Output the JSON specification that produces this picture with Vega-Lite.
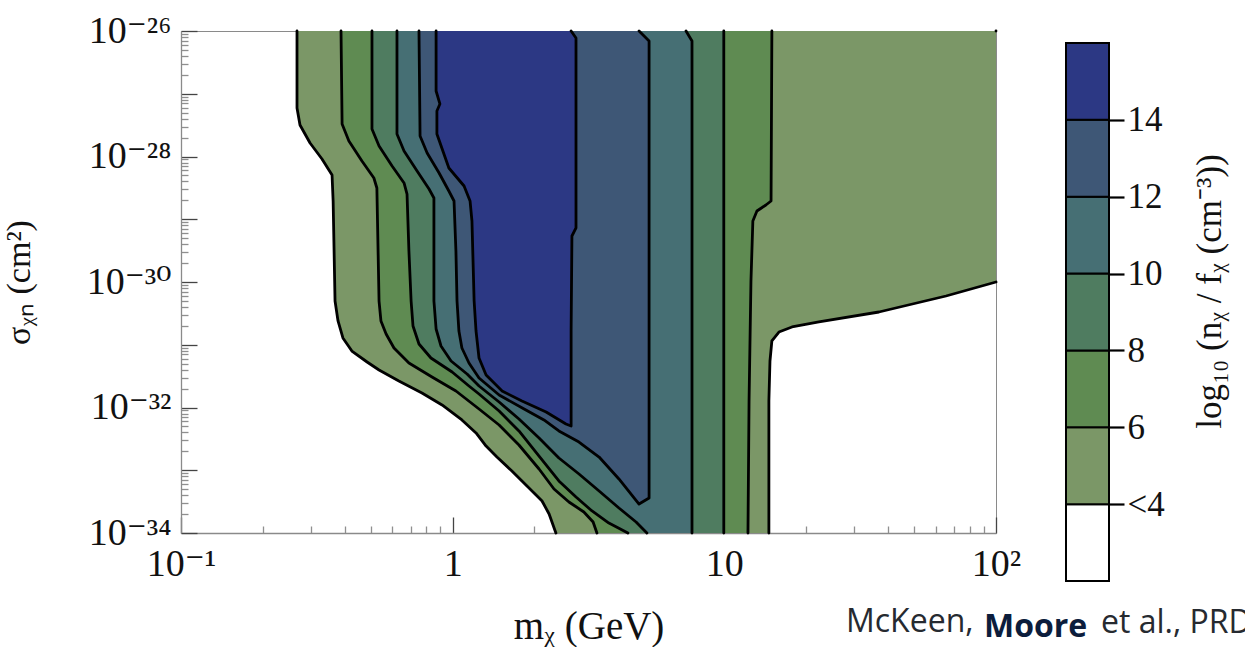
{
  "$schema": "https://vega.github.io/schema/vega-lite/v6.json",
  "background": "white",
  "padding": {"left": 1, "top": 11, "right": 0, "bottom": 0},
  "config": {"view": {"stroke": null}, "font": "Liberation Serif"},
  "title": {
    "text": "et al., PRD",
    "orient": "bottom",
    "anchor": "start",
    "frame": "group",
    "baseline": "alphabetic",
    "font": "Open Sans",
    "fontSize": 32,
    "fontWeight": "normal",
    "color": "#262a30",
    "dx": 920,
    "offset": -14
  },
  "spacing": 70,
  "bounds": "flush",
  "hconcat": [
    {
      "width": 815,
      "height": 502,
      "view": {"stroke": "#8a8a8a", "strokeWidth": 1},
      "title": {
        "text": "McKeen,",
        "orient": "bottom",
        "anchor": "start",
        "frame": "group",
        "baseline": "alphabetic",
        "font": "Open Sans",
        "fontSize": 32,
        "fontWeight": "normal",
        "color": "#262a30",
        "dx": 665,
        "offset": -14
      },
      "data": {
        "values": [
          {"level": 4, "part": "c4a", "log_m": -0.573, "log_sigma": -26},
          {"level": 4, "part": "c4a", "log_m": -0.573, "log_sigma": -27.227},
          {"level": 4, "part": "c4a", "log_m": -0.562, "log_sigma": -27.498},
          {"level": 4, "part": "c4a", "log_m": -0.525, "log_sigma": -27.785},
          {"level": 4, "part": "c4a", "log_m": -0.481, "log_sigma": -28.04},
          {"level": 4, "part": "c4a", "log_m": -0.444, "log_sigma": -28.295},
          {"level": 4, "part": "c4a", "log_m": -0.44, "log_sigma": -28.709},
          {"level": 4, "part": "c4a", "log_m": -0.433, "log_sigma": -30.303},
          {"level": 4, "part": "c4a", "log_m": -0.422, "log_sigma": -30.621},
          {"level": 4, "part": "c4a", "log_m": -0.404, "log_sigma": -30.892},
          {"level": 4, "part": "c4a", "log_m": -0.371, "log_sigma": -31.1},
          {"level": 4, "part": "c4a", "log_m": -0.315, "log_sigma": -31.275},
          {"level": 4, "part": "c4a", "log_m": -0.271, "log_sigma": -31.402},
          {"level": 4, "part": "c4a", "log_m": -0.198, "log_sigma": -31.578},
          {"level": 4, "part": "c4a", "log_m": -0.113, "log_sigma": -31.769},
          {"level": 4, "part": "c4a", "log_m": -0.039, "log_sigma": -31.96},
          {"level": 4, "part": "c4a", "log_m": 0.034, "log_sigma": -32.199},
          {"level": 4, "part": "c4a", "log_m": 0.086, "log_sigma": -32.406},
          {"level": 4, "part": "c4a", "log_m": 0.123, "log_sigma": -32.614},
          {"level": 4, "part": "c4a", "log_m": 0.163, "log_sigma": -32.789},
          {"level": 4, "part": "c4a", "log_m": 0.218, "log_sigma": -33.012},
          {"level": 4, "part": "c4a", "log_m": 0.281, "log_sigma": -33.283},
          {"level": 4, "part": "c4a", "log_m": 0.329, "log_sigma": -33.49},
          {"level": 4, "part": "c4a", "log_m": 0.355, "log_sigma": -33.697},
          {"level": 4, "part": "c4a", "log_m": 0.38, "log_sigma": -34},
          {"level": 4, "part": "c4b", "log_m": 1.164, "log_sigma": -34},
          {"level": 4, "part": "c4b", "log_m": 1.164, "log_sigma": -31.896},
          {"level": 4, "part": "c4b", "log_m": 1.168, "log_sigma": -31.259},
          {"level": 4, "part": "c4b", "log_m": 1.175, "log_sigma": -30.94},
          {"level": 4, "part": "c4b", "log_m": 1.201, "log_sigma": -30.797},
          {"level": 4, "part": "c4b", "log_m": 1.249, "log_sigma": -30.717},
          {"level": 4, "part": "c4b", "log_m": 1.348, "log_sigma": -30.637},
          {"level": 4, "part": "c4b", "log_m": 1.569, "log_sigma": -30.478},
          {"level": 4, "part": "c4b", "log_m": 1.816, "log_sigma": -30.223},
          {"level": 4, "part": "c4b", "log_m": 2.0, "log_sigma": -30.0},
          {"level": 4, "part": "c4edge", "log_m": 2.0, "log_sigma": -26},

          {"level": 6, "part": "c6a", "log_m": -0.411, "log_sigma": -26},
          {"level": 6, "part": "c6a", "log_m": -0.407, "log_sigma": -27.482},
          {"level": 6, "part": "c6a", "log_m": -0.382, "log_sigma": -27.753},
          {"level": 6, "part": "c6a", "log_m": -0.334, "log_sigma": -28.072},
          {"level": 6, "part": "c6a", "log_m": -0.29, "log_sigma": -28.343},
          {"level": 6, "part": "c6a", "log_m": -0.279, "log_sigma": -28.502},
          {"level": 6, "part": "c6a", "log_m": -0.271, "log_sigma": -30.303},
          {"level": 6, "part": "c6a", "log_m": -0.264, "log_sigma": -30.621},
          {"level": 6, "part": "c6a", "log_m": -0.245, "log_sigma": -30.829},
          {"level": 6, "part": "c6a", "log_m": -0.216, "log_sigma": -31.052},
          {"level": 6, "part": "c6a", "log_m": -0.161, "log_sigma": -31.291},
          {"level": 6, "part": "c6a", "log_m": -0.076, "log_sigma": -31.514},
          {"level": 6, "part": "c6a", "log_m": 0.012, "log_sigma": -31.737},
          {"level": 6, "part": "c6a", "log_m": 0.097, "log_sigma": -32.024},
          {"level": 6, "part": "c6a", "log_m": 0.171, "log_sigma": -32.279},
          {"level": 6, "part": "c6a", "log_m": 0.244, "log_sigma": -32.598},
          {"level": 6, "part": "c6a", "log_m": 0.318, "log_sigma": -32.98},
          {"level": 6, "part": "c6a", "log_m": 0.373, "log_sigma": -33.299},
          {"level": 6, "part": "c6a", "log_m": 0.428, "log_sigma": -33.506},
          {"level": 6, "part": "c6a", "log_m": 0.483, "log_sigma": -33.665},
          {"level": 6, "part": "c6a", "log_m": 0.517, "log_sigma": -33.825},
          {"level": 6, "part": "c6a", "log_m": 0.531, "log_sigma": -34},
          {"level": 6, "part": "c6b", "log_m": 1.087, "log_sigma": -34},
          {"level": 6, "part": "c6b", "log_m": 1.091, "log_sigma": -31.896},
          {"level": 6, "part": "c6b", "log_m": 1.098, "log_sigma": -29.984},
          {"level": 6, "part": "c6b", "log_m": 1.105, "log_sigma": -29.028},
          {"level": 6, "part": "c6b", "log_m": 1.12, "log_sigma": -28.869},
          {"level": 6, "part": "c6b", "log_m": 1.153, "log_sigma": -28.773},
          {"level": 6, "part": "c6b", "log_m": 1.172, "log_sigma": -28.709},
          {"level": 6, "part": "c6b", "log_m": 1.175, "log_sigma": -26},

          {"level": 8, "part": "c8a", "log_m": -0.297, "log_sigma": -26},
          {"level": 8, "part": "c8a", "log_m": -0.297, "log_sigma": -27.562},
          {"level": 8, "part": "c8a", "log_m": -0.271, "log_sigma": -27.833},
          {"level": 8, "part": "c8a", "log_m": -0.223, "log_sigma": -28.151},
          {"level": 8, "part": "c8a", "log_m": -0.179, "log_sigma": -28.422},
          {"level": 8, "part": "c8a", "log_m": -0.168, "log_sigma": -28.598},
          {"level": 8, "part": "c8a", "log_m": -0.161, "log_sigma": -29.506},
          {"level": 8, "part": "c8a", "log_m": -0.153, "log_sigma": -30.303},
          {"level": 8, "part": "c8a", "log_m": -0.146, "log_sigma": -30.701},
          {"level": 8, "part": "c8a", "log_m": -0.124, "log_sigma": -30.988},
          {"level": 8, "part": "c8a", "log_m": -0.08, "log_sigma": -31.211},
          {"level": 8, "part": "c8a", "log_m": -0.002, "log_sigma": -31.434},
          {"level": 8, "part": "c8a", "log_m": 0.06, "log_sigma": -31.657},
          {"level": 8, "part": "c8a", "log_m": 0.097, "log_sigma": -31.785},
          {"level": 8, "part": "c8a", "log_m": 0.171, "log_sigma": -32.056},
          {"level": 8, "part": "c8a", "log_m": 0.244, "log_sigma": -32.374},
          {"level": 8, "part": "c8a", "log_m": 0.318, "log_sigma": -32.773},
          {"level": 8, "part": "c8a", "log_m": 0.391, "log_sigma": -33.171},
          {"level": 8, "part": "c8a", "log_m": 0.454, "log_sigma": -33.426},
          {"level": 8, "part": "c8a", "log_m": 0.513, "log_sigma": -33.649},
          {"level": 8, "part": "c8a", "log_m": 0.575, "log_sigma": -33.841},
          {"level": 8, "part": "c8a", "log_m": 0.645, "log_sigma": -34},
          {"level": 8, "part": "c8b", "log_m": 0.998, "log_sigma": -34},
          {"level": 8, "part": "c8b", "log_m": 0.998, "log_sigma": -26},

          {"level": 10, "part": "c10a", "log_m": -0.205, "log_sigma": -26},
          {"level": 10, "part": "c10a", "log_m": -0.205, "log_sigma": -27.641},
          {"level": 10, "part": "c10a", "log_m": -0.179, "log_sigma": -27.912},
          {"level": 10, "part": "c10a", "log_m": -0.131, "log_sigma": -28.231},
          {"level": 10, "part": "c10a", "log_m": -0.087, "log_sigma": -28.518},
          {"level": 10, "part": "c10a", "log_m": -0.069, "log_sigma": -28.661},
          {"level": 10, "part": "c10a", "log_m": -0.069, "log_sigma": -30.303},
          {"level": 10, "part": "c10a", "log_m": -0.061, "log_sigma": -30.749},
          {"level": 10, "part": "c10a", "log_m": -0.043, "log_sigma": -31.02},
          {"level": 10, "part": "c10a", "log_m": -0.006, "log_sigma": -31.259},
          {"level": 10, "part": "c10a", "log_m": 0.053, "log_sigma": -31.466},
          {"level": 10, "part": "c10a", "log_m": 0.097, "log_sigma": -31.657},
          {"level": 10, "part": "c10a", "log_m": 0.171, "log_sigma": -31.912},
          {"level": 10, "part": "c10a", "log_m": 0.244, "log_sigma": -32.183},
          {"level": 10, "part": "c10a", "log_m": 0.318, "log_sigma": -32.486},
          {"level": 10, "part": "c10a", "log_m": 0.391, "log_sigma": -32.805},
          {"level": 10, "part": "c10a", "log_m": 0.465, "log_sigma": -33.06},
          {"level": 10, "part": "c10a", "log_m": 0.539, "log_sigma": -33.331},
          {"level": 10, "part": "c10a", "log_m": 0.612, "log_sigma": -33.602},
          {"level": 10, "part": "c10a", "log_m": 0.675, "log_sigma": -33.825},
          {"level": 10, "part": "c10a", "log_m": 0.715, "log_sigma": -34},
          {"level": 10, "part": "c10b", "log_m": 0.881, "log_sigma": -34},
          {"level": 10, "part": "c10b", "log_m": 0.881, "log_sigma": -26.159},
          {"level": 10, "part": "c10b", "log_m": 0.859, "log_sigma": -26},

          {"level": 12, "part": "c12", "log_m": -0.124, "log_sigma": -26},
          {"level": 12, "part": "c12", "log_m": -0.12, "log_sigma": -27.673},
          {"level": 12, "part": "c12", "log_m": -0.094, "log_sigma": -27.944},
          {"level": 12, "part": "c12", "log_m": -0.05, "log_sigma": -28.263},
          {"level": 12, "part": "c12", "log_m": -0.014, "log_sigma": -28.55},
          {"level": 12, "part": "c12", "log_m": 0.005, "log_sigma": -28.709},
          {"level": 12, "part": "c12", "log_m": 0.012, "log_sigma": -29.506},
          {"level": 12, "part": "c12", "log_m": 0.016, "log_sigma": -30.303},
          {"level": 12, "part": "c12", "log_m": 0.023, "log_sigma": -30.781},
          {"level": 12, "part": "c12", "log_m": 0.034, "log_sigma": -31.052},
          {"level": 12, "part": "c12", "log_m": 0.06, "log_sigma": -31.291},
          {"level": 12, "part": "c12", "log_m": 0.097, "log_sigma": -31.53},
          {"level": 12, "part": "c12", "log_m": 0.171, "log_sigma": -31.801},
          {"level": 12, "part": "c12", "log_m": 0.263, "log_sigma": -32.024},
          {"level": 12, "part": "c12", "log_m": 0.336, "log_sigma": -32.199},
          {"level": 12, "part": "c12", "log_m": 0.391, "log_sigma": -32.374},
          {"level": 12, "part": "c12", "log_m": 0.465, "log_sigma": -32.55},
          {"level": 12, "part": "c12", "log_m": 0.539, "log_sigma": -32.789},
          {"level": 12, "part": "c12", "log_m": 0.612, "log_sigma": -33.139},
          {"level": 12, "part": "c12", "log_m": 0.686, "log_sigma": -33.538},
          {"level": 12, "part": "c12", "log_m": 0.723, "log_sigma": -33.442},
          {"level": 12, "part": "c12", "log_m": 0.723, "log_sigma": -29.235},
          {"level": 12, "part": "c12", "log_m": 0.723, "log_sigma": -26.159},
          {"level": 12, "part": "c12", "log_m": 0.686, "log_sigma": -26},

          {"level": 14, "part": "c14", "log_m": -0.061, "log_sigma": -26},
          {"level": 14, "part": "c14", "log_m": -0.061, "log_sigma": -26.956},
          {"level": 14, "part": "c14", "log_m": -0.047, "log_sigma": -27.163},
          {"level": 14, "part": "c14", "log_m": -0.058, "log_sigma": -27.275},
          {"level": 14, "part": "c14", "log_m": -0.058, "log_sigma": -27.641},
          {"level": 14, "part": "c14", "log_m": -0.014, "log_sigma": -28.183},
          {"level": 14, "part": "c14", "log_m": 0.042, "log_sigma": -28.47},
          {"level": 14, "part": "c14", "log_m": 0.064, "log_sigma": -28.709},
          {"level": 14, "part": "c14", "log_m": 0.071, "log_sigma": -29.028},
          {"level": 14, "part": "c14", "log_m": 0.079, "log_sigma": -30.303},
          {"level": 14, "part": "c14", "log_m": 0.086, "log_sigma": -30.781},
          {"level": 14, "part": "c14", "log_m": 0.097, "log_sigma": -31.211},
          {"level": 14, "part": "c14", "log_m": 0.123, "log_sigma": -31.482},
          {"level": 14, "part": "c14", "log_m": 0.182, "log_sigma": -31.737},
          {"level": 14, "part": "c14", "log_m": 0.255, "log_sigma": -31.896},
          {"level": 14, "part": "c14", "log_m": 0.344, "log_sigma": -32.072},
          {"level": 14, "part": "c14", "log_m": 0.417, "log_sigma": -32.263},
          {"level": 14, "part": "c14", "log_m": 0.436, "log_sigma": -32.295},
          {"level": 14, "part": "c14", "log_m": 0.436, "log_sigma": -30.781},
          {"level": 14, "part": "c14", "log_m": 0.439, "log_sigma": -29.267},
          {"level": 14, "part": "c14", "log_m": 0.454, "log_sigma": -29.139},
          {"level": 14, "part": "c14", "log_m": 0.454, "log_sigma": -26.112},
          {"level": 14, "part": "c14", "log_m": 0.436, "log_sigma": -26}
        ]
      },
      "encoding": {
        "x": {
          "field": "log_m",
          "type": "quantitative",
          "scale": {"domain": [-1, 2], "nice": false, "zero": false},
          "axis": {
            "values": [-1, -0.69897, -0.52288, -0.39794, -0.30103, -0.22185, -0.1549, -0.09691, -0.04576, 0, 0.30103, 0.47712, 0.60206, 0.69897, 0.77815, 0.8451, 0.90309, 0.95424, 1, 1.30103, 1.47712, 1.60206, 1.69897, 1.77815, 1.8451, 1.90309, 1.95424, 2],
            "labelExpr": "datum.value == -1 ? '10⁻¹' : datum.value == 0 ? '1' : datum.value == 1 ? '10' : datum.value == 2 ? '10²' : ''",
            "labelFont": "Liberation Serif, DejaVu Serif",
            "labelFontSize": 38,
            "labelColor": "#111111",
            "labelOverlap": false,
            "labelFlush": false,
            "labelBound": false,
            "labelPadding": 28,
            "tickSize": {"condition": {"test": "datum.value == round(datum.value)", "value": -16}, "value": -7},
            "tickColor": {"condition": {"test": "datum.value == round(datum.value)", "value": "#444444"}, "value": "#8f8f8f"},
            "tickWidth": 1.3,
            "domainColor": "#8a8a8a",
            "domainWidth": 1.3,
            "grid": false,
            "title": "mᵪ (GeV)",
            "titleFont": "Liberation Serif",
            "titleFontSize": 39,
            "titleFontWeight": "normal",
            "titleColor": "#111111",
            "titlePadding": 15
          }
        },
        "y": {
          "field": "log_sigma",
          "type": "quantitative",
          "scale": {"domain": [-34, -26], "nice": false, "zero": false},
          "axis": {
            "values": [-34, -33.69897, -33.52288, -33.39794, -33.30103, -33.22185, -33.1549, -33.09691, -33.04576, -33, -32.69897, -32.52288, -32.39794, -32.30103, -32.22185, -32.1549, -32.09691, -32.04576, -32, -31.69897, -31.52288, -31.39794, -31.30103, -31.22185, -31.1549, -31.09691, -31.04576, -31, -30.69897, -30.52288, -30.39794, -30.30103, -30.22185, -30.1549, -30.09691, -30.04576, -30, -29.69897, -29.52288, -29.39794, -29.30103, -29.22185, -29.1549, -29.09691, -29.04576, -29, -28.69897, -28.52288, -28.39794, -28.30103, -28.22185, -28.1549, -28.09691, -28.04576, -28, -27.69897, -27.52288, -27.39794, -27.30103, -27.22185, -27.1549, -27.09691, -27.04576, -27, -26.69897, -26.52288, -26.39794, -26.30103, -26.22185, -26.1549, -26.09691, -26.04576, -26],
            "labelExpr": "datum.value == -26 ? '10⁻²⁶' : datum.value == -28 ? '10⁻²⁸' : datum.value == -30 ? '10⁻³⁰' : datum.value == -32 ? '10⁻³²' : datum.value == -34 ? '10⁻³⁴' : ''",
            "labelFont": "Liberation Serif, DejaVu Serif",
            "labelFontSize": 38,
            "labelColor": "#111111",
            "labelOverlap": false,
            "labelFlush": false,
            "labelBound": false,
            "labelPadding": 26,
            "tickSize": {"condition": {"test": "datum.value == round(datum.value)", "value": -16}, "value": -7},
            "tickColor": {"condition": {"test": "datum.value == round(datum.value)", "value": "#444444"}, "value": "#8f8f8f"},
            "tickWidth": 1.3,
            "domainColor": "#8a8a8a",
            "domainWidth": 1.3,
            "grid": false,
            "title": "σᵪₙ (cm²)",
            "titleFont": "Liberation Serif",
            "titleFontSize": 34,
            "titleFontWeight": "normal",
            "titleColor": "#111111",
            "titlePadding": 50
          }
        },
        "order": {"value": null}
      },
      "layer": [
        {
          "mark": {"type": "line", "strokeWidth": 0, "interpolate": "linear"},
          "encoding": {
            "fill": {
              "field": "level",
              "type": "ordinal",
              "scale": {"domain": [2, 4, 6, 8, 10, 12, 14], "range": ["#ffffff", "#7b9767", "#5f8b52", "#4f7c60", "#466f74", "#3e5776", "#2c3884"]},
              "legend": null
            },
            "detail": {"field": "level"}
          }
        },
        {
          "mark": {"type": "line", "color": "#000000", "strokeWidth": 2.8, "strokeJoin": "round", "strokeCap": "round", "interpolate": "linear"},
          "encoding": {"detail": {"field": "part"}}
        }
      ]
    },
    {
      "width": 43,
      "height": 550,
      "view": {"stroke": null},
      "title": {
        "text": "Moore",
        "orient": "bottom",
        "anchor": "start",
        "frame": "group",
        "baseline": "alphabetic",
        "font": "Open Sans",
        "fontSize": 32,
        "fontWeight": "bold",
        "color": "#0c1d3c",
        "dx": -82,
        "offset": 55
      },
      "data": {
        "values": [
          {"level": 2, "top": 4},
          {"level": 4, "top": 6},
          {"level": 6, "top": 8},
          {"level": 8, "top": 10},
          {"level": 10, "top": 12},
          {"level": 12, "top": 14},
          {"level": 14, "top": 16}
        ]
      },
      "mark": {"type": "rect", "stroke": "#000000", "strokeWidth": 2},
      "encoding": {
        "y": {
          "field": "level",
          "type": "quantitative",
          "scale": {"domain": [2, 16.31], "nice": false, "zero": false},
          "axis": {
            "orient": "right",
            "values": [4, 6, 8, 10, 12, 14],
            "labelExpr": "datum.value == 4 ? '<4' : datum.label",
            "domain": false,
            "grid": false,
            "tickSize": 15,
            "tickWidth": 2.2,
            "tickColor": "#000000",
            "labelFont": "Liberation Serif",
            "labelFontSize": 35,
            "labelColor": "#111111",
            "labelPadding": 3,
            "labelOverlap": false,
            "labelFlush": false,
            "labelBound": false,
            "title": "log₁₀ (nᵪ / fᵪ (cm⁻³))",
            "titleFont": "Liberation Serif",
            "titleFontSize": 35,
            "titleFontWeight": "normal",
            "titleColor": "#111111",
            "titleAngle": 270,
            "titleBaseline": "top",
            "titleY": 260,
            "titlePadding": 28
          }
        },
        "y2": {"field": "top"},
        "fill": {
          "field": "level",
          "type": "ordinal",
          "scale": {"domain": [2, 4, 6, 8, 10, 12, 14], "range": ["#ffffff", "#7b9767", "#5f8b52", "#4f7c60", "#466f74", "#3e5776", "#2c3884"]},
          "legend": null
        }
      }
    }
  ]
}
